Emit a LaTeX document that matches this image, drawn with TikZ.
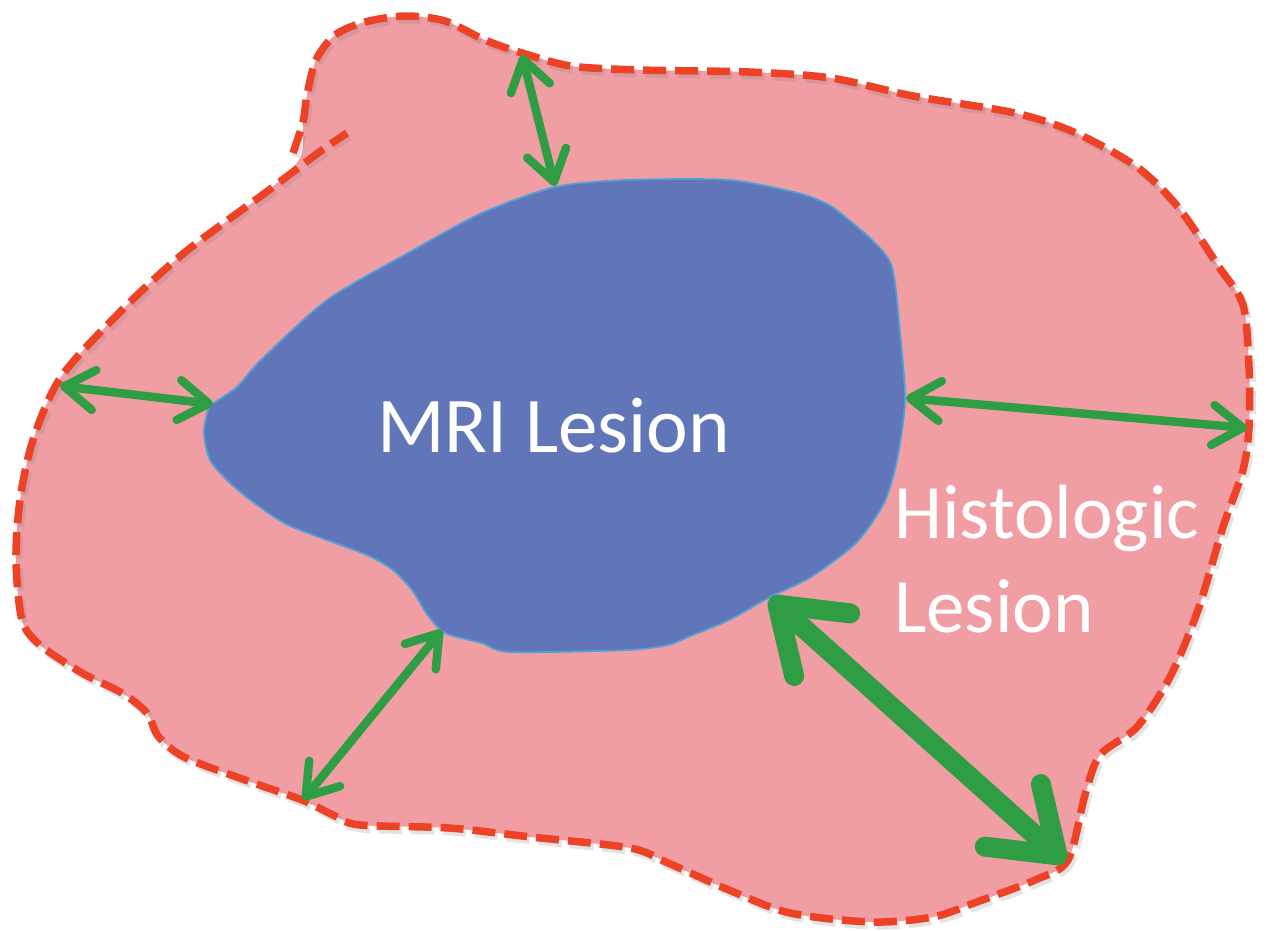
\documentclass[tikz,border=0pt]{standalone}
\usepackage{fontspec}
\newfontfamily\calib{Carlito}
\usetikzlibrary{arrows.meta}
\definecolor{pinkfill}{RGB}{240,157,163}
\definecolor{bluefill}{RGB}{96,118,185}
\definecolor{blueline}{RGB}{80,160,215}
\definecolor{reddash}{RGB}{238,66,38}
\definecolor{greenarr}{RGB}{46,157,68}
\tikzset{
  outline/.style={draw=reddash, line width=7.5pt, dash pattern=on 23pt off 9pt, line cap=butt},
  outshadow/.style={draw=black!50, opacity=0.22, line width=8pt, dash pattern=on 23pt off 9pt},
  smallarr/.style={draw=greenarr, line width=8.5pt, line cap=round,
    {Straight Barb[length=30pt,width=40pt,round]}-{Straight Barb[length=30pt,width=40pt,round]}},
  bigarr/.style={draw=greenarr, line width=20pt, line cap=round,
    {Straight Barb[length=60pt,width=84pt,round]}-{Straight Barb[length=60pt,width=84pt,round]}},
  labeltext/.style={text=white, inner sep=0pt, anchor=base west}
}
\begin{document}
\begin{tikzpicture}[x=1pt,y=-1pt]
\useasboundingbox (0,0) rectangle (1267,930);
\fill[white] (0,0) rectangle (1267,930);
% histologic lesion fill
\fill[pinkfill] plot[smooth cycle, tension=0.5] coordinates {
(303,122) (307,95) (316,60) (335,35) (365,22) (405,16) (445,21) (485,40) (522,53)
(571,66) (640,70) (749,72) (831,78) (913,96) (1015,113) (1076,133) (1137,167)
(1178,207) (1219,267) (1243,305) (1249,367) (1249,427) (1243,470) (1223,527)
(1198,610) (1170,677) (1137,727) (1100,755) (1085,795) (1068,860) (1035,880)
(974,903) (933,917) (872,922) (790,913) (729,890) (668,863) (630,848) (531,837)
(449,828) (360,825) (335,816) (302,800) (245,780) (184,757) (158,736) (147,713)
(122,693) (82,673) (40,645) (22,620) (16,560) (20,500) (33,440) (61,377) (122,310)
(184,253) (265,193) (300,158)};
% shadow of outline
\begin{scope}[shift={(2.5,3.5)}]
\draw[outshadow] plot[smooth, tension=0.5] coordinates {
(293,153) (303,122) (307,95) (316,60) (335,35) (365,22) (405,16) (445,21) (485,40) (522,53)
(571,66) (640,70) (749,72) (831,78) (913,96) (1015,113) (1076,133) (1137,167)
(1178,207) (1219,267) (1243,305) (1249,367) (1249,427) (1243,470) (1223,527)
(1198,610) (1170,677) (1137,727) (1100,755) (1085,795) (1068,860) (1035,880)
(974,903) (933,917) (872,922) (790,913) (729,890) (668,863) (630,848) (531,837)
(449,828) (360,825) (335,816) (302,800) (245,780) (184,757) (158,736) (147,713)
(122,693) (82,673) (40,645) (22,620) (16,560) (20,500) (33,440) (61,377) (122,310)
(184,253) (265,193) (318,153) (347,133)};
\end{scope}
% outline
\draw[outline] plot[smooth, tension=0.5] coordinates {
(293,153) (303,122) (307,95) (316,60) (335,35) (365,22) (405,16) (445,21) (485,40) (522,53)
(571,66) (640,70) (749,72) (831,78) (913,96) (1015,113) (1076,133) (1137,167)
(1178,207) (1219,267) (1243,305) (1249,367) (1249,427) (1243,470) (1223,527)
(1198,610) (1170,677) (1137,727) (1100,755) (1085,795) (1068,860) (1035,880)
(974,903) (933,917) (872,922) (790,913) (729,890) (668,863) (630,848) (531,837)
(449,828) (360,825) (335,816) (302,800) (245,780) (184,757) (158,736) (147,713)
(122,693) (82,673) (40,645) (22,620) (16,560) (20,500) (33,440) (61,377) (122,310)
(184,253) (265,193) (318,153) (347,133)};
% MRI lesion
\filldraw[fill=bluefill, draw=blueline, line width=1.8pt] plot[smooth cycle, tension=0.45] coordinates {
(555,187) (627,180) (729,180) (798,193) (825,203) (839,212) (872,240) (892,267)
(900,333) (905,400) (897,460) (884,503) (856,543) (811,577) (770,597) (729,620)
(688,637) (668,645) (627,650) (510,652) (482,643) (445,633) (427,614) (412,590)
(393,570) (367,555) (327,540) (286,524) (253,502) (229,482) (210,460) (204,433)
(208,410) (214,403) (237,387) (261,360) (327,300) (408,253) (482,213)};
% arrow end points
\coordinate (topOut) at (522,55);
\coordinate (topIn) at (555,186);
\coordinate (leftOut) at (60,386);
\coordinate (leftIn) at (213,404);
\coordinate (rightIn) at (906,398);
\coordinate (rightOut) at (1247,428);
\coordinate (blIn) at (442,630);
\coordinate (blOut) at (303,800);
\coordinate (brIn) at (770,598);
\coordinate (brOut) at (1065,862);
\draw[smallarr] (topOut) -- (topIn);
\draw[smallarr] (leftOut) -- (leftIn);
\draw[smallarr] (rightIn) -- (rightOut);
\draw[smallarr] (blIn) -- (blOut);
\draw[bigarr] (brIn) -- (brOut);
% labels
\node[labeltext, font=\calib\fontsize{79}{90}\selectfont] (mri) at (377,452) {MRI Lesion};
\node[labeltext, font=\calib\fontsize{77}{90}\selectfont] (hist1) at (894,538) {Histologic};
\node[labeltext, font=\calib\fontsize{77}{90}\selectfont] (hist2) at (894,632) {Lesion};
\end{tikzpicture}
\end{document}
